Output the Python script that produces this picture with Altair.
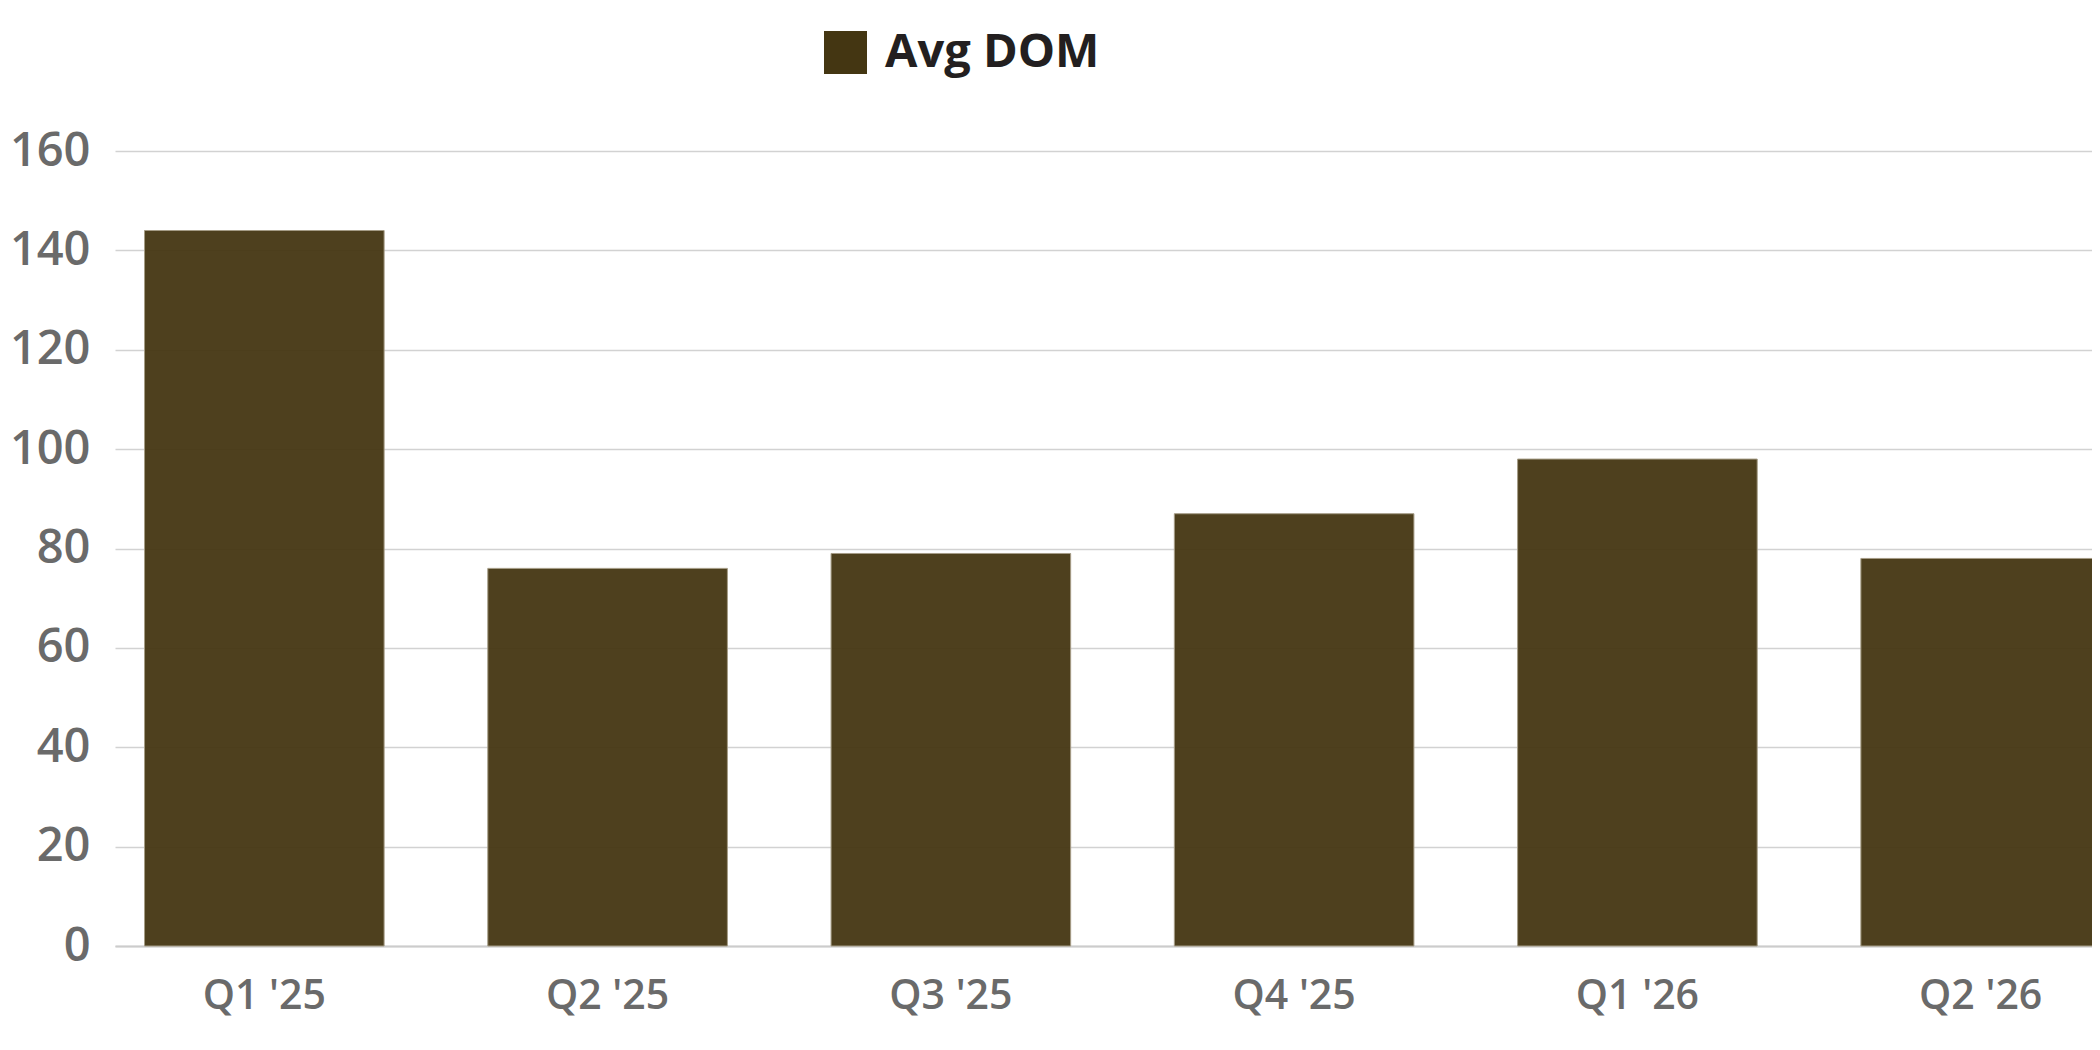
import altair as alt
import pandas as pd

quarters = ["Q1 '25", "Q2 '25", "Q3 '25", "Q4 '25", "Q1 '26", "Q2 '26"]
avg_dom = [144, 76, 79, 87, 98, 78]
series_name = "Avg DOM"
y_ticks = [0, 20, 40, 60, 80, 100, 120, 140, 160]

df = pd.DataFrame({"quarter": quarters, "value": avg_dom, "series": [series_name] * len(quarters)})

BAR = "#443612"
LEG = "#4d3f1e"
FONT = "Open Sans"

chart = alt.Chart(df).mark_bar(
    fillOpacity=0.95, stroke="#a59c86", strokeWidth=1
).encode(
    x=alt.X("quarter:N", sort=quarters, title=None,
            scale=alt.Scale(range=[0, 2015], paddingInner=0.302, paddingOuter=0.086),
            axis=alt.Axis(labelAngle=0, labelFont=FONT, labelFontSize=41, labelFontWeight=600,
                          labelColor="#6a6a6a", ticks=False, tickSize=0, labelPadding=30,
                          domain=True, domainColor="#cccccc", domainWidth=2, grid=False)),
    y=alt.Y("value:Q", title=None,
            scale=alt.Scale(domain=[0, 160], nice=False, zero=True),
            axis=alt.Axis(values=y_ticks, labelFont=FONT, labelFontSize=47, labelFontWeight=600,
                          labelColor="#6a6a6a", ticks=False, tickSize=0, labelPadding=25,
                          domain=False, grid=True, gridColor="#d2d2d2", gridWidth=1.5)),
    color=alt.Color("series:N", scale=alt.Scale(range=[BAR]),
                    legend=alt.Legend(title=None, orient="none", legendX=707, legendY=-122,
                                      direction="horizontal", symbolType="square", symbolSize=1849,
                                      symbolStrokeWidth=0, symbolOpacity=1, symbolFillColor=LEG,
                                      labelFont=FONT, labelFontSize=47, labelFontWeight="bold",
                                      labelColor="#231f20", labelOffset=16, padding=0,
                                      labelLimit=0)),
).properties(
    width=1977, height=795,
    autosize=alt.AutoSizeParams(type="none"),
    padding={"left": 107, "top": 143, "right": 0, "bottom": 90},
).configure_view(stroke=None)

chart.save("out.html", embed_options={"renderer": "svg", "actions": False})
